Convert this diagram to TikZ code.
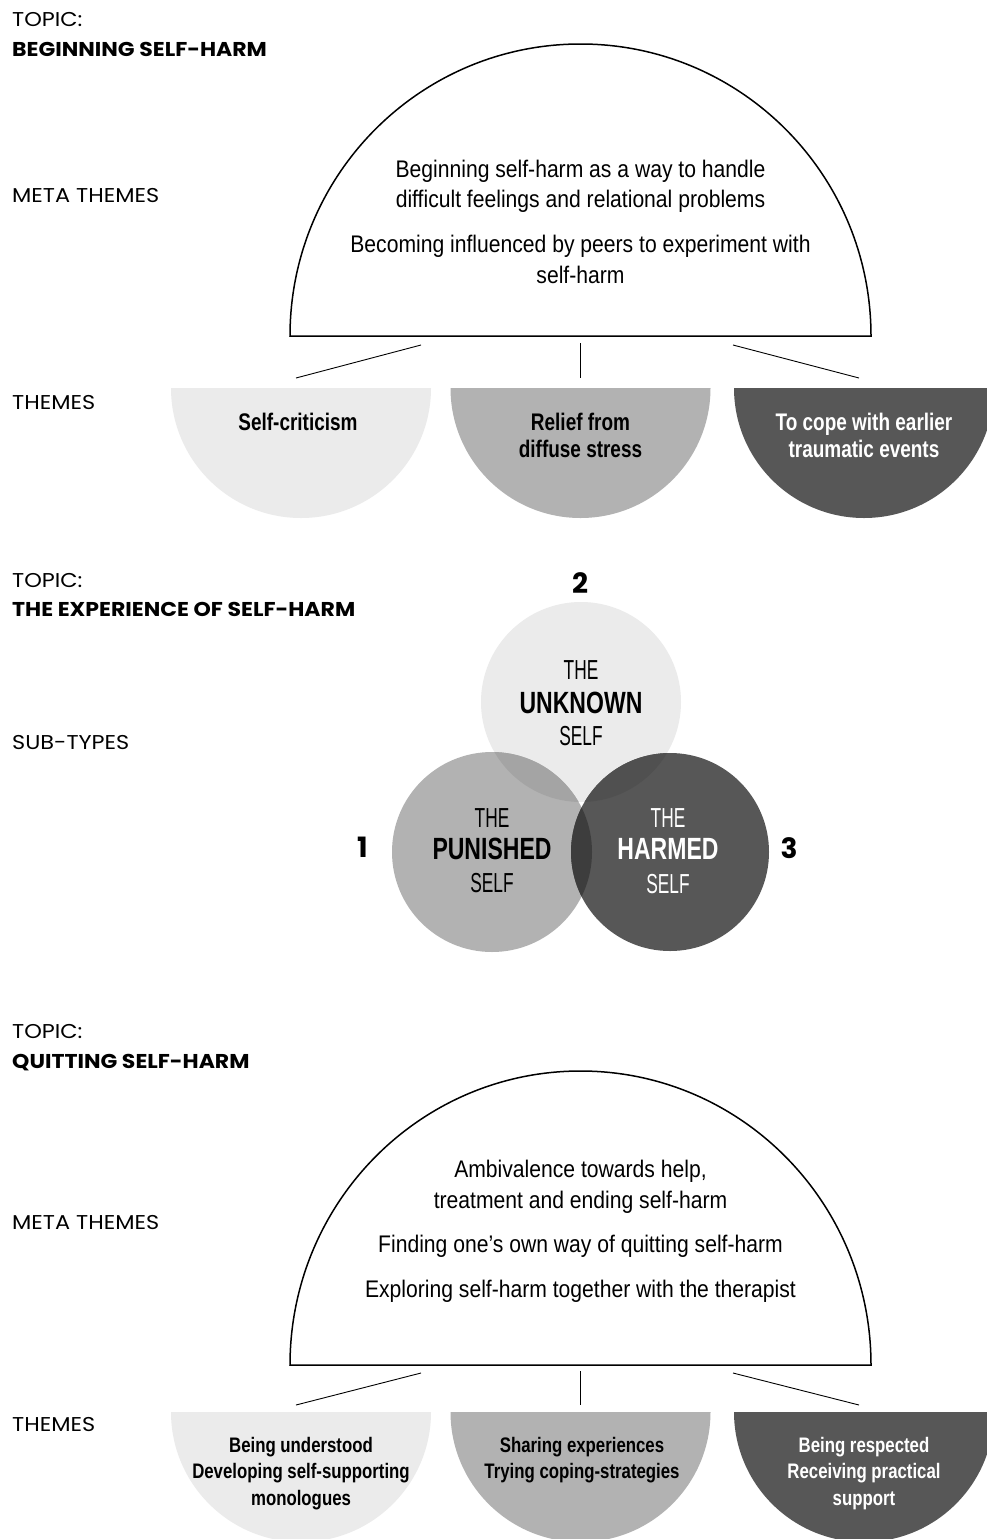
\documentclass[tikz,border=0pt]{standalone}
\usepackage{fontspec}
\setmainfont{Poppins}
\newfontfamily\lblfont[FakeStretch=1.12]{Poppins}
\newfontfamily\hdfont[FakeStretch=1.1]{Poppins}
\newfontfamily\condr[FakeStretch=0.88]{Liberation Sans}
\newfontfamily\condb[FakeStretch=0.79]{Liberation Sans}
\newfontfamily\condbs[FakeStretch=0.8]{Liberation Sans}
\newfontfamily\circb[FakeStretch=0.75]{Liberation Sans}
\newfontfamily\circr[FakeStretch=0.63]{Liberation Sans}
\definecolor{gLight}{HTML}{EBEBEB}
\definecolor{gMid}{HTML}{B2B2B2}
\definecolor{gDark}{HTML}{575757}
\definecolor{gUP}{HTML}{A4A4A4}
\definecolor{gUH}{HTML}{505050}
\definecolor{gPH}{HTML}{3D3D3D}
\definecolor{gUPH}{HTML}{383838}
\tikzset{
 lbl/.style={anchor=base west, inner sep=0, font=\lblfont\fontsize{20}{24}\selectfont},
 hd/.style={anchor=base west, inner sep=0, font=\hdfont\bfseries\fontsize{20}{24}\selectfont},
 meta/.style={anchor=base, inner sep=0, font=\condr\fontsize{24}{28}\selectfont},
 thm/.style={anchor=base, inner sep=0, font=\condb\bfseries\fontsize{24}{27}\selectfont},
 thms/.style={anchor=base, inner sep=0, font=\condbs\bfseries\fontsize{21}{24}\selectfont},
 dome/.style={draw=black, line width=1.5pt, fill=white},
 link/.style={draw=black, line width=0.9pt},
 cthe/.style={anchor=base, inner sep=0, font=\circr\fontsize{27.5}{30}\selectfont},
 cbig/.style={anchor=base, inner sep=0, font=\circb\bfseries\fontsize{30.7}{32}\selectfont},
 num/.style={anchor=base, inner sep=0, font=\bfseries\fontsize{28}{30}\selectfont},
}
\begin{document}
\begin{tikzpicture}[x=1pt,y=-1pt]
\useasboundingbox (0,0) rectangle (987,1539);
\fill[white] (0,0) rectangle (987,1539);

% ---------------- section 1 ----------------
\node[lbl] (t1) at (12,26.5) {TOPIC:};
\node[hd] (h1) at (12,56.5) {BEGINNING SELF-HARM};
\node[lbl] (m1) at (12,202) {META THEMES};
\node[lbl] (th1) at (12,409) {THEMES};

\draw[dome] (290,336) arc[start angle=180,end angle=0,x radius=290.5pt,y radius=292pt] -- cycle;
\node[meta] (d1a) at (580.5,177) {Beginning self-harm as a way to handle};
\node[meta] (d1b) at (580.5,207) {difficult feelings and relational problems};
\node[meta] (d1c) at (580.5,252) {Becoming influenced by peers to experiment with};
\node[meta] (d1d) at (580.5,283) {self-harm};

\coordinate (a1l) at (421,345); \coordinate (b1l) at (296,378);
\coordinate (a1m) at (580,343); \coordinate (b1m) at (580,378);
\coordinate (a1r) at (733,345); \coordinate (b1r) at (859,378);
\draw[link] (a1l) -- (b1l);
\draw[link] (a1m) -- (b1m);
\draw[link] (a1r) -- (b1r);

\fill[gLight] (171,388) arc[start angle=180,end angle=360,radius=130pt] -- cycle;
\fill[gMid] (450.5,388) arc[start angle=180,end angle=360,radius=130pt] -- cycle;
\fill[gDark] (734,388) arc[start angle=180,end angle=360,radius=130pt] -- cycle;
\node[thm] (s1a) at (298,430) {Self-criticism};
\node[thm] (s2a) at (580.5,430) {Relief from};
\node[thm] (s2b) at (580.5,457) {diffuse stress};
\node[thm,text=white] (s3a) at (864,430) {To cope with earlier};
\node[thm,text=white] (s3b) at (864,457) {traumatic events};

% ---------------- section 2 ----------------
\node[lbl] (t2) at (12,587) {TOPIC:};
\node[hd] (h2) at (12,616) {THE EXPERIENCE OF SELF-HARM};
\node[lbl] (m2) at (12,749) {SUB-TYPES};

\coordinate (cu) at (581,702);
\coordinate (cp) at (492,852);
\coordinate (ch) at (670,852);
\fill[gLight] (cu) circle (100pt);
\fill[gMid] (cp) circle (100pt);
\fill[gDark] (ch) circle (99pt);
\begin{scope}
 \clip (cu) circle (100pt);
 \fill[gUP] (cp) circle (100pt);
 \fill[gUH] (ch) circle (99pt);
\end{scope}
\begin{scope}
 \clip (cp) circle (100pt);
 \fill[gPH] (ch) circle (99pt);
 \clip (cu) circle (100pt);
 \fill[gUPH] (ch) circle (99pt);
\end{scope}

\node[num] (n2) at (580,593) {2};
\node[num] (n1) at (362.5,857) {1};
\node[num] (n3) at (789,858) {3};

\node[cthe] (u1) at (581,679) {THE};
\node[cbig] (u2) at (581,713) {UNKNOWN};
\node[cthe] (u3) at (581,745) {SELF};
\node[cthe] (p1) at (492,827) {THE};
\node[cbig] (p2) at (492,859) {PUNISHED};
\node[cthe] (p3) at (492,892) {SELF};
\node[cthe,text=white] (r1) at (668,827) {THE};
\node[cbig,text=white] (r2) at (668,859) {HARMED};
\node[cthe,text=white] (r3) at (668,893) {SELF};

% ---------------- section 3 ----------------
\node[lbl] (t3) at (12,1038) {TOPIC:};
\node[hd] (h3) at (12,1068.5) {QUITTING SELF-HARM};
\node[lbl] (m3) at (12,1229) {META THEMES};
\node[lbl] (th3) at (12,1431) {THEMES};

\draw[dome] (290,1365) arc[start angle=180,end angle=0,x radius=290.5pt,y radius=294pt] -- cycle;
\node[meta] (d3a) at (580.5,1177) {Ambivalence towards help,};
\node[meta] (d3b) at (580.5,1208) {treatment and ending self-harm};
\node[meta] (d3c) at (580.5,1252) {Finding one’s own way of quitting self-harm};
\node[meta] (d3d) at (580.5,1297) {Exploring self-harm together with the therapist};

\coordinate (a3l) at (421,1373); \coordinate (b3l) at (296,1405);
\coordinate (a3m) at (580,1371); \coordinate (b3m) at (580,1405);
\coordinate (a3r) at (733,1373); \coordinate (b3r) at (859,1405);
\draw[link] (a3l) -- (b3l);
\draw[link] (a3m) -- (b3m);
\draw[link] (a3r) -- (b3r);

\fill[gLight] (171,1412) arc[start angle=180,end angle=360,radius=130pt] -- cycle;
\fill[gMid] (450.5,1412) arc[start angle=180,end angle=360,radius=130pt] -- cycle;
\fill[gDark] (734,1412) arc[start angle=180,end angle=360,radius=130pt] -- cycle;
\node[thms] (q1a) at (301,1452) {Being understood};
\node[thms] (q1b) at (301,1478.5) {Developing self-supporting};
\node[thms] (q1c) at (301,1505) {monologues};
\node[thms] (q2a) at (582,1452) {Sharing experiences};
\node[thms] (q2b) at (582,1478.5) {Trying coping-strategies};
\node[thms,text=white] (q3a) at (864,1452) {Being respected};
\node[thms,text=white] (q3b) at (864,1478.5) {Receiving practical};
\node[thms,text=white] (q3c) at (864,1505) {support};
\end{tikzpicture}
\end{document}
